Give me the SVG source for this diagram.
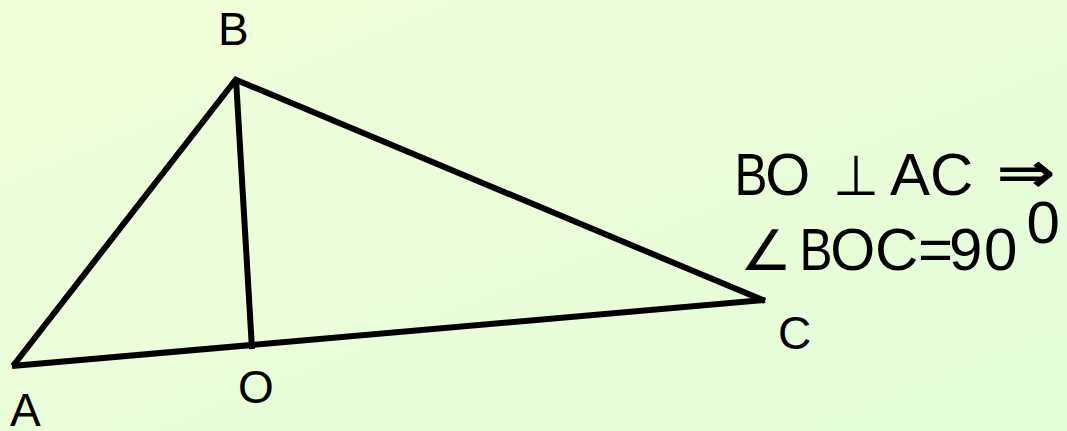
<svg xmlns="http://www.w3.org/2000/svg" width="1067" height="431" viewBox="0 0 1067 431">
<defs>
<linearGradient id="bg" x1="0" y1="0" x2="1" y2="1">
<stop offset="0" stop-color="#F0FFDA"/>
<stop offset="1" stop-color="#E2FDD8"/>
</linearGradient>
</defs>
<style>
.ln{stroke:#000;stroke-width:6;fill:none;stroke-linecap:butt}
.lb{font-family:"Liberation Sans",Arial,sans-serif;font-size:46px;fill:#000}
.big{font-family:"Liberation Sans",Arial,sans-serif;font-size:60px;fill:#000}
.sym{font-family:"DejaVu Sans",sans-serif;font-size:56px;fill:#000}
</style>
<rect width="1067" height="431" fill="url(#bg)"/>
<g id="connectors">
<line class="ln" x1="13" y1="366" x2="237" y2="78"/>
<line class="ln" x1="234" y1="79" x2="765" y2="301"/>
<line class="ln" x1="12" y1="366" x2="765" y2="300"/>
<line class="ln" x1="236" y1="79" x2="252" y2="349"/>
</g>
<g id="A"><text class="lb" x="10" y="426">A</text></g>
<g id="B"><text class="lb" x="218" y="45">B</text></g>
<g id="O"><text class="lb" x="238" y="403">O</text></g>
<g id="C"><text class="lb" x="778" y="349">C</text></g>
<g id="stmt">
<text class="big" x="734.4" y="195" textLength="33" lengthAdjust="spacingAndGlyphs">B</text>
<text class="big" x="765.2" y="195" textLength="45" lengthAdjust="spacingAndGlyphs">O</text>
<text class="sym" x="833" y="195" textLength="46" lengthAdjust="spacingAndGlyphs">⊥</text>
<text class="big" y="195"><tspan x="890">A</tspan><tspan x="930">C</tspan></text>
<text class="sym" x="997" y="192" textLength="58" lengthAdjust="spacingAndGlyphs" stroke="#000" stroke-width="1.2">⇒</text>
<text class="sym" x="740" y="270" textLength="52" lengthAdjust="spacingAndGlyphs">∠</text>
<text class="big" x="799.4" y="270" textLength="33" lengthAdjust="spacingAndGlyphs">B</text>
<text class="big" x="830.2" y="270" textLength="45" lengthAdjust="spacingAndGlyphs">O</text>
<text class="big" y="270"><tspan x="875">C</tspan><tspan x="918">=</tspan><tspan x="949">9</tspan><tspan x="984">0</tspan></text>
<text class="big" x="1026.5" y="243" font-size="34">0</text>
</g>
</svg>
